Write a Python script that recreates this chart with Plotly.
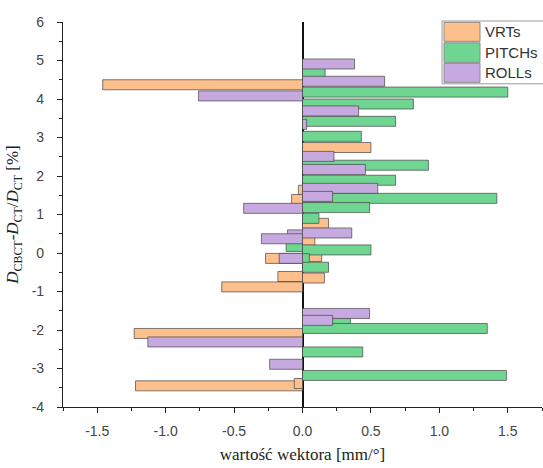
import plotly.graph_objects as go

# ---- data ----
vrt_y = [4.37, 2.74, 1.63, 1.39, 0.77, 0.33, -0.09, -0.14, -0.61, -0.65, -0.88, -2.09, -3.45, -3.39]
vrt_x = [-1.46, 0.50, -0.03, -0.08, 0.19, 0.09, 0.14, -0.27, -0.18, 0.16, -0.59, -1.23, -1.22, -0.06]

pitch_y = [4.70, 4.18, 3.87, 3.42, 3.03, 2.28, 1.89, 1.42, 1.18, 0.90, 0.17, 0.08, -0.15, -0.37, -1.83, -1.96, -2.57, -3.18]
pitch_x = [0.165, 1.50, 0.81, 0.68, 0.43, 0.92, 0.68, 1.42, 0.49, 0.12, -0.12, 0.50, 0.05, 0.19, 0.35, 1.35, 0.44, 1.49]

roll_y = [4.91, 4.46, 4.08, 3.69, 3.34, 2.51, 2.17, 1.68, 1.47, 1.16, 0.52, 0.47, 0.37, -0.14, -1.57, -1.75, -2.31, -2.89]
roll_x = [0.38, 0.60, -0.76, 0.41, 0.03, 0.23, 0.46, 0.55, 0.22, -0.43, 0.36, -0.11, -0.30, -0.17, 0.49, 0.22, -1.13, -0.24]

series_names = ["VRTs", "PITCHs", "ROLLs"]
series_colors = ["#FDC08C", "#6FD691", "#C6AADF"]

x_tick_vals = [-1.5, -1.0, -0.5, 0.0, 0.5, 1.0, 1.5]
x_tick_text = ["-1.5", "-1.0", "-0.5", "0.0", "0.5", "1.0", "1.5"]
y_tick_vals = [-4, -3, -2, -1, 0, 1, 2, 3, 4, 5, 6]
y_tick_text = ["-4", "-3", "-2", "-1", "0", "1", "2", "3", "4", "5", "6"]

fig = go.Figure()
for name, xs, ys, col in [
    (series_names[0], vrt_x, vrt_y, series_colors[0]),
    (series_names[1], pitch_x, pitch_y, series_colors[1]),
    (series_names[2], roll_x, roll_y, series_colors[2]),
]:
    fig.add_trace(go.Bar(
        x=xs, y=ys, orientation="h", width=0.26, name=name,
        marker=dict(color=col, line=dict(color="rgba(70,70,70,0.7)", width=1)),
        showlegend=False,
    ))

# custom legend (large swatches like the original)
L, R = 63, 542
T, B = 21.7, 406.7
def px(x):
    return (x - L) / (R - L)
def py(y):
    return (B - y) / (B - T)

shapes = [dict(type="rect", xref="paper", yref="paper",
               x0=px(442), x1=px(560), y0=py(83.5), y1=py(20.7),
               line=dict(color="#9a9a9a", width=1), fillcolor="white", layer="above")]
annotations = []
rows = [(22, 41), (42.5, 62), (63, 82)]
for (y0, y1), name, col in zip(rows, series_names, series_colors):
    shapes.append(dict(type="rect", xref="paper", yref="paper",
                       x0=px(444), x1=px(480), y0=py(y1), y1=py(y0),
                       line=dict(color="#8a8a8a", width=1), fillcolor=col, layer="above"))
    annotations.append(dict(xref="paper", yref="paper", x=px(483), y=py((y0 + y1) / 2),
                            text=name, showarrow=False, xanchor="left", yanchor="middle",
                            font=dict(family="Liberation Sans, Arial", size=15, color="#333")))

fig.update_layout(
    width=543, height=468,
    margin=dict(l=63, r=1, t=22, b=61),
    paper_bgcolor="white", plot_bgcolor="white",
    barmode="overlay",
    shapes=shapes, annotations=annotations,
    font=dict(family="Liberation Sans, Arial", size=13, color="#333"),
)
fig.update_xaxes(
    range=[-1.75, 1.75], tickvals=x_tick_vals, ticktext=x_tick_text,
    showline=True, linecolor="#222", linewidth=1.2, mirror=False,
    ticks="outside", ticklen=5, tickcolor="#222", tickwidth=1,
    minor=dict(dtick=0.25, ticks="outside", ticklen=3, tickcolor="#222"),
    showgrid=False, zeroline=True, zerolinecolor="#111", zerolinewidth=1.5,
    ticklabelstandoff=6,
    tickfont=dict(family="Liberation Sans, Arial", size=14, color="#444"),
    title=dict(text="wartość wektora [mm/°]", standoff=10,
               font=dict(family="Liberation Serif, Times New Roman", size=17, color="#222")),
)
fig.update_yaxes(
    range=[-4, 6], tickvals=y_tick_vals, ticktext=y_tick_text,
    showline=True, linecolor="#222", linewidth=1.2,
    ticks="outside", ticklen=5, tickcolor="#222", tickwidth=1,
    minor=dict(dtick=0.5, ticks="outside", ticklen=3, tickcolor="#222"),
    showgrid=False, zeroline=False,
    ticklabelstandoff=10,
    tickfont=dict(family="Liberation Sans, Arial", size=14, color="#444"),
    title=dict(text="<i>D</i><sub>CBCT</sub>-<i>D</i><sub>CT</sub>/<i>D</i><sub>CT</sub> [%]", standoff=8,
               font=dict(family="Liberation Serif, Times New Roman", size=17, color="#222")),
)

fig.write_html("out.html")
